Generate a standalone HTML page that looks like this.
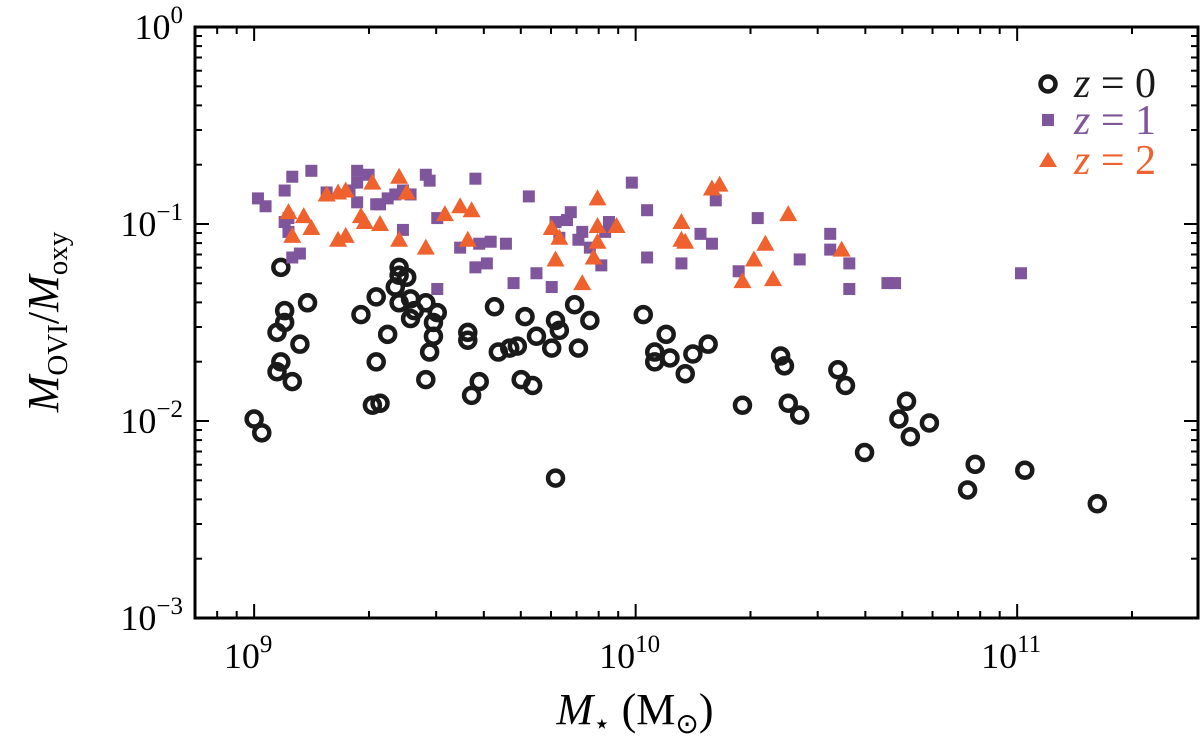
<!DOCTYPE html>
<html><head><meta charset="utf-8"><style>
body{margin:0;background:#fff;}
svg{display:block;font-family:"Liberation Serif","Times New Roman",serif;}
</style></head><body>
<svg id="chart" width="1200" height="736" viewBox="0 0 1200 736" xmlns="http://www.w3.org/2000/svg">
<g id="marks"></g>
<g id="axes"></g>
<text transform="translate(58,322) rotate(-90)" text-anchor="middle" font-size="44"><tspan font-style="italic">M</tspan><tspan font-size="29" dy="9">OVI</tspan><tspan dy="-9">/</tspan><tspan font-style="italic">M</tspan><tspan font-size="29" dy="9">oxy</tspan></text>
<text x="635" y="724" text-anchor="middle" font-size="44"><tspan font-style="italic">M</tspan><tspan font-size="28" dy="9">⋆</tspan><tspan dy="-9"> (M</tspan><tspan font-size="28" dy="9">⊙</tspan><tspan dy="-9">)</tspan></text>
<g>
<circle cx="1048" cy="84" r="7.5" fill="none" stroke="#1a1a1a" stroke-width="4.5"/>
<text x="1074" y="97" font-size="42" fill="#1a1a1a"><tspan font-style="italic">z</tspan> = 0</text>
<rect x="1042" y="114" width="12" height="12" fill="#7f559c"/>
<text x="1074" y="134" font-size="42" fill="#7f559c"><tspan font-style="italic">z</tspan> = 1</text>
<polygon points="1048,152 1057,167 1039,167" fill="#f0622d"/>
<text x="1074" y="174" font-size="42" fill="#f0622d"><tspan font-style="italic">z</tspan> = 2</text>
</g>
</svg>
<script>
// log10 stellar mass and log10 M_OVI/M_oxy
const z0LogMass=[9.00,9.02,9.07,9.06,9.06,9.08,9.08,9.07,9.10,9.12,9.14,9.28,9.32,9.31,9.32,9.33,9.35,9.38,9.37,9.38,9.38,9.40,9.41,9.42,9.41,9.45,9.45,9.46,9.47,9.48,9.47,9.56,9.56,9.57,9.59,9.63,9.64,9.67,9.69,9.71,9.70,9.73,9.74,9.78,9.79,9.79,9.80,9.84,9.85,9.88,10.02,10.05,10.05,10.08,10.09,10.13,10.15,10.19,10.28,10.38,10.39,10.40,10.43,10.53,10.55,10.60,10.69,10.71,10.72,10.77,10.87,10.89,11.02,11.21];
const z0LogFrac=[-1.99,-2.06,-1.22,-1.75,-1.55,-1.44,-1.50,-1.70,-1.80,-1.61,-1.40,-1.46,-1.37,-1.92,-1.70,-1.91,-1.56,-1.22,-1.32,-1.40,-1.26,-1.27,-1.48,-1.44,-1.38,-1.40,-1.79,-1.65,-1.50,-1.45,-1.57,-1.55,-1.59,-1.87,-1.80,-1.42,-1.65,-1.63,-1.62,-1.47,-1.79,-1.82,-1.57,-1.63,-2.29,-1.49,-1.54,-1.41,-1.63,-1.49,-1.46,-1.70,-1.65,-1.56,-1.68,-1.76,-1.66,-1.61,-1.92,-1.67,-1.72,-1.91,-1.97,-1.74,-1.82,-2.16,-1.99,-1.90,-2.08,-2.01,-2.35,-2.22,-2.25,-2.42];
const z1LogMass=[9.01,9.03,9.10,9.08,9.09,9.08,9.09,9.12,9.10,9.15,9.19,9.25,9.27,9.27,9.27,9.30,9.32,9.33,9.35,9.37,9.39,9.39,9.41,9.45,9.46,9.48,9.48,9.54,9.58,9.58,9.59,9.61,9.62,9.66,9.68,9.72,9.74,9.78,9.79,9.80,9.82,9.83,9.85,9.86,9.88,9.91,9.92,9.93,9.99,10.03,10.03,10.12,10.17,10.20,10.21,10.27,10.32,10.43,10.51,10.51,10.56,10.56,10.66,10.68,11.01];
const z1LogFrac=[-0.87,-0.91,-0.76,-0.83,-0.97,-0.99,-1.04,-1.15,-1.17,-0.73,-0.84,-0.83,-0.73,-0.79,-0.89,-0.75,-0.90,-0.90,-0.87,-0.85,-1.03,-0.83,-0.85,-0.75,-0.78,-0.97,-1.33,-1.12,-0.77,-1.22,-1.10,-1.20,-1.09,-1.10,-1.30,-0.86,-1.25,-1.32,-0.99,-1.07,-0.98,-0.94,-1.08,-1.04,-1.12,-1.21,-1.04,-0.99,-0.79,-0.93,-1.17,-1.20,-1.05,-1.10,-0.88,-1.24,-0.97,-1.18,-1.05,-1.13,-1.20,-1.33,-1.30,-1.30,-1.25];
const z2LogMass=[9.09,9.10,9.13,9.15,9.19,9.22,9.24,9.22,9.24,9.28,9.29,9.31,9.33,9.38,9.38,9.40,9.45,9.50,9.54,9.56,9.57,9.78,9.79,9.80,9.86,9.89,9.90,9.90,9.90,9.95,10.12,10.12,10.13,10.20,10.22,10.28,10.31,10.34,10.36,10.40,10.54];
const z2LogFrac=[-0.94,-1.06,-0.96,-1.02,-0.85,-0.84,-0.83,-1.08,-1.06,-0.96,-0.99,-0.79,-1.00,-0.76,-1.08,-0.84,-1.12,-0.95,-0.91,-1.08,-0.93,-1.02,-1.18,-1.07,-1.30,-1.17,-1.09,-1.01,-0.87,-1.01,-0.99,-1.08,-1.09,-0.82,-0.80,-1.29,-1.18,-1.10,-1.28,-0.95,-1.13];
const xTickExps=[9,10,11];
const yTickExps=[0,-1,-2,-3];

const L=195,R=1198,T=27,B=618;
const xMin=8.845,xMax=11.474,yMin=-3,yMax=0;
const X=v=>L+(v-xMin)/(xMax-xMin)*(R-L);
const Y=v=>B-(v-yMin)/(yMax-yMin)*(B-T);
const NS="http://www.w3.org/2000/svg";
function mk(tag,attrs,parent){const e=document.createElementNS(NS,tag);for(const k in attrs)e.setAttribute(k,attrs[k]);parent.appendChild(e);return e;}
const marks=document.getElementById('marks'),axes=document.getElementById('axes');

z0LogMass.forEach((m,i)=>{
 const c=mk('circle',{cx:X(m),cy:Y(z0LogFrac[i]),r:7.5,fill:'none',stroke:'#1a1a1a','stroke-width':4.5},marks);
 
 
});
z1LogMass.forEach((m,i)=>{
 const x=X(m),y=Y(z1LogFrac[i]);
 const s=mk('rect',{x:x-6,y:y-6,width:12,height:12,fill:'#7f559c'},marks);
 
 
});
z2LogMass.forEach((m,i)=>{
 const x=X(m),y=Y(z2LogFrac[i]);
 const p=mk('polygon',{points:`${x},${y-9} ${x+9},${y+7} ${x-9},${y+7}`,fill:'#f0622d'},marks);
 
 
});

const f=mk('rect',{x:L,y:T,width:R-L,height:B-T,fill:'none',stroke:'#000','stroke-width':3},axes);


for(let e=8;e<=11;e++){for(let k=1;k<10;k++){const v=e+Math.log10(k);if(v<xMin||v>xMax)continue;const x=X(v);const len=k===1?14:7;
 mk('line',{x1:x,y1:B,x2:x,y2:B-len,stroke:'#000','stroke-width':2},axes);
 mk('line',{x1:x,y1:T,x2:x,y2:T+len,stroke:'#000','stroke-width':2},axes);}}
for(let e=-3;e<0;e++){for(let k=1;k<10;k++){const v=e+Math.log10(k);const y=Y(v);const len=k===1?14:7;
 mk('line',{x1:L,y1:y,x2:L+len,y2:y,stroke:'#000','stroke-width':2},axes);
 mk('line',{x1:R,y1:y,x2:R-len,y2:y,stroke:'#000','stroke-width':2},axes);}}
xTickExps.forEach(e=>{
 const t=mk('text',{x:X(e)-6,y:B+50,'text-anchor':'middle','font-size':36},axes);
 
 
 t.innerHTML=`10<tspan font-size="25" dy="-16">${e}</tspan>`;
});
yTickExps.forEach(e=>{
 const t=mk('text',{x:L-12,y:Y(e)+12,'text-anchor':'end','font-size':36},axes);
 
 
 t.innerHTML=`10<tspan font-size="25" dy="-16">${e===0?'0':'−'+(-e)}</tspan>`;
});
</script>
</body></html>
